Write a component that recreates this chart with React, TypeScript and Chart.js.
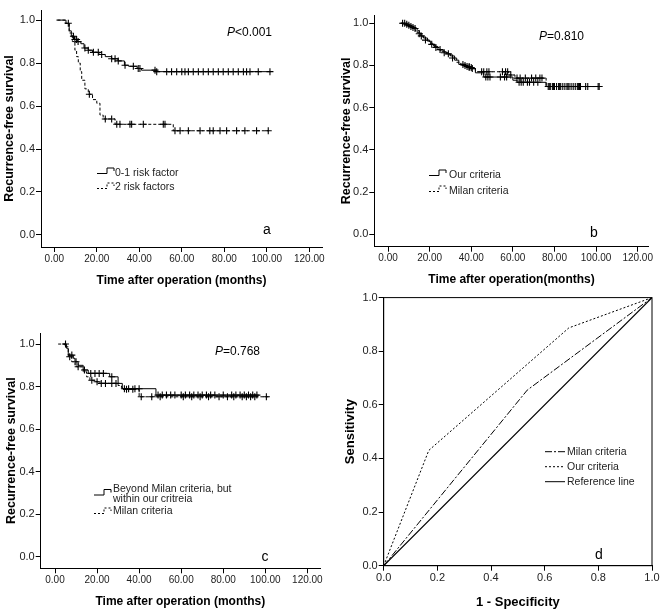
import React, { useEffect, useRef } from 'react';
import { Chart, registerables } from 'chart.js';
Chart.register(...registerables);

const FONT = "'Liberation Sans', Arial, Helvetica, sans-serif";

// ---------- shared ticks ----------
const kmXTicks = [0, 20, 40, 60, 80, 100, 120];
const kmYTicks = [0, 0.2, 0.4, 0.6, 0.8, 1.0];
const rocTicks = [0, 0.2, 0.4, 0.6, 0.8, 1.0];

// ---------- panel a ----------
const aLowTimes = [1, 5.5, 7, 8, 9.5, 11, 12.5, 14, 16, 18, 21, 24, 27, 30, 33, 35, 39, 41, 48, 102];
const aLowSurv = [1.0, 0.985, 0.95, 0.925, 0.91, 0.9, 0.89, 0.87, 0.86, 0.85, 0.84, 0.83, 0.82, 0.81, 0.79, 0.785, 0.775, 0.767, 0.76, 0.76];
const aLowCensor = [6.6, 9, 9.7, 10.5, 11.2, 14.4, 16, 18.4, 20.7, 22.3, 27, 28.6, 30.1, 33.3, 37.2, 39.5, 40.3, 47.4, 48.2, 52.9, 55.2, 57.6, 60, 61.5, 63.1, 65.4, 67.8, 70.1, 72.5, 74.8, 77.2, 79.5, 81.9, 84.2, 86.6, 89, 90.5, 92.1, 96, 101.5];
const aHighTimes = [1.5, 5, 7, 8.5, 9.7, 10.5, 11.3, 12.2, 12.9, 14.4, 16, 18, 20, 21.5, 23, 28.6, 56, 101];
const aHighSurv = [1.0, 0.985, 0.94, 0.9, 0.86, 0.83, 0.8, 0.76, 0.72, 0.68, 0.655, 0.63, 0.613, 0.558, 0.54, 0.515, 0.485, 0.485];
const aHighCensor = [16.5, 24, 27, 29.4, 30.9, 35.6, 36.4, 41.9, 51.3, 52.1, 56.8, 59.2, 63.1, 68.6, 73.2, 74.8, 78, 81.1, 85.8, 89.7, 95.2, 100.7];
const aLegend = ['0-1 risk factor', '2 risk factors'];
const aP = '<0.001';

// ---------- panel b ----------
const bOurTimes = [6, 8, 10, 12, 14, 15.5, 17, 19, 20.5, 22, 24, 26, 28, 30, 32, 34, 37, 40, 42, 46, 60, 62, 76, 102];
const bOurSurv = [1.0, 0.995, 0.985, 0.975, 0.955, 0.94, 0.93, 0.915, 0.9, 0.89, 0.875, 0.865, 0.855, 0.845, 0.825, 0.805, 0.795, 0.785, 0.765, 0.745, 0.73, 0.72, 0.70, 0.70];
const bOurCensor = [7, 9, 11, 13, 16, 21, 25, 29, 36, 38, 39, 40.5, 47, 48, 49, 54, 56, 57, 63, 64, 65, 67, 68, 70, 72, 77, 78, 79, 80, 81, 82, 83, 85, 86, 87, 88, 90, 91, 92, 96, 101];
const bMilanTimes = [6, 9, 11, 13, 15, 16.5, 18, 20, 21.5, 23, 25, 27, 29, 31, 33, 35, 38, 42, 58, 61, 76, 102];
const bMilanSurv = [1.0, 0.99, 0.98, 0.965, 0.95, 0.935, 0.92, 0.905, 0.895, 0.885, 0.87, 0.86, 0.85, 0.835, 0.815, 0.80, 0.79, 0.77, 0.755, 0.74, 0.70, 0.70];
const bMilanCensor = [8, 10, 12, 15, 18, 23, 27, 31, 37, 39, 40, 45, 46, 47.5, 48.5, 55, 56.5, 57.5, 59, 62, 63.5, 66, 69, 71, 73, 74, 77.5, 79.5, 82.5, 84, 86.5, 89, 91.5, 92.5, 95, 101.5];
const bLegend = ['Our criteria', 'Milan criteria'];
const bP = '=0.810';

// ---------- panel c ----------
const cBeyondTimes = [4, 5.5, 6.3, 8.7, 9.5, 11, 13.4, 15.8, 26, 30, 32, 48, 97];
const cBeyondSurv = [1.0, 0.98, 0.948, 0.933, 0.917, 0.9, 0.878, 0.862, 0.846, 0.815, 0.79, 0.76, 0.76];
const cBeyondCensor = [5, 8, 10, 14, 17, 19, 21, 23, 27, 33, 35, 38, 40, 49, 51, 53, 55, 57, 60, 62, 64, 66, 68, 70, 72, 74, 76, 80, 84, 86, 88, 90, 92, 94, 96];
const cMilanTimes = [1.5, 4.7, 6.3, 7.9, 9.5, 10.3, 13.4, 15, 16.6, 19, 21.3, 30, 31.6, 33.1, 40, 102];
const cMilanSurv = [1.0, 0.987, 0.94, 0.917, 0.9, 0.893, 0.87, 0.846, 0.83, 0.823, 0.815, 0.805, 0.795, 0.787, 0.752, 0.752];
const cMilanCensor = [7, 11, 17.5, 20, 22, 24, 27, 29, 34, 37, 41, 46, 50, 61, 65, 69, 73, 78, 82, 85, 89, 91, 93, 95, 100.5];
const cLegend = ['Beyond Milan criteria, but', 'within our critreia', 'Milan criteria'];
const cP = '=0.768';

// ---------- panel d ----------
const dMilanX = [0, 0.535, 1];
const dMilanY = [0, 0.655, 1];
const dOurX = [0, 0.168, 0.69, 1];
const dOurY = [0, 0.43, 0.887, 1];
const dRefX = [0, 1];
const dRefY = [0, 1];
const dLegend = ['Milan criteria', 'Our criteria', 'Reference line'];

function survAt(times: number[], surv: number[], t: number) {
  let s = surv[0];
  for (let i = 0; i < times.length; i++) if (times[i] <= t) s = surv[i];
  return s;
}

function kmDatasets(curves: { times: number[]; surv: number[]; censor: number[]; dash: number[] }[]) {
  const ds: any[] = [];
  curves.forEach((c) => {
    ds.push({
      type: 'line',
      data: c.times.map((t, i) => ({ x: t, y: c.surv[i] })),
      stepped: true,
      borderColor: '#000',
      borderWidth: 1,
      borderDash: c.dash,
      pointRadius: 0,
      fill: false,
    });
    ds.push({
      type: 'scatter',
      data: c.censor.map((t) => ({ x: t, y: survAt(c.times, c.surv, t) })),
      pointStyle: 'cross',
      pointRadius: 3.5,
      borderColor: '#000',
      borderWidth: 1.1,
      showLine: false,
    });
  });
  return ds;
}

function pText(ctx: CanvasRenderingContext2D, x: number, y: number, rest: string) {
  ctx.fillStyle = '#000';
  ctx.textBaseline = 'middle';
  ctx.textAlign = 'left';
  ctx.font = `italic 12px ${FONT}`;
  ctx.fillText('P', x, y);
  const w = ctx.measureText('P').width;
  ctx.font = `12px ${FONT}`;
  ctx.fillText(rest, x + w, y);
}

function letter(ctx: CanvasRenderingContext2D, x: number, y: number, s: string) {
  ctx.fillStyle = '#000';
  ctx.textBaseline = 'middle';
  ctx.textAlign = 'center';
  ctx.font = `14px ${FONT}`;
  ctx.fillText(s, x, y);
}

function stepGlyph(ctx: CanvasRenderingContext2D, x: number, y: number, dashed: boolean) {
  ctx.save();
  ctx.strokeStyle = '#000';
  ctx.lineWidth = 1;
  ctx.setLineDash(dashed ? [2, 2] : []);
  ctx.beginPath();
  ctx.moveTo(x, y + 2.5);
  ctx.lineTo(x + 10, y + 2.5);
  ctx.lineTo(x + 10, y - 3);
  ctx.lineTo(x + 17, y - 3);
  ctx.lineTo(x + 17, y);
  ctx.stroke();
  ctx.restore();
}

function legendText(ctx: CanvasRenderingContext2D, x: number, y: number, s: string) {
  ctx.fillStyle = '#222';
  ctx.textBaseline = 'middle';
  ctx.textAlign = 'left';
  ctx.font = `10.5px ${FONT}`;
  ctx.fillText(s, x, y);
}

type PanelSpec = {
  left: number; top: number; width: number; height: number;
  config: () => any;
};

function kmConfig(opts: {
  datasets: any[]; xmin: number; xmax: number; ymin: number; ymax: number;
  yWidth: number; xHeight: number; pad: { top: number; right: number; bottom: number; left: number };
  yTitlePad: number; xTitlePad: number; xTitle: string; overlay: (ctx: CanvasRenderingContext2D) => void;
}) {
  return {
    type: 'scatter',
    data: { datasets: opts.datasets },
    options: {
      responsive: false,
      animation: false,
      events: [],
      layout: { padding: opts.pad },
      plugins: { legend: { display: false }, tooltip: { enabled: false }, title: { display: false } },
      scales: {
        x: {
          type: 'linear', min: opts.xmin, max: opts.xmax,
          afterBuildTicks: (s: any) => { s.ticks = kmXTicks.map((v) => ({ value: v })); },
          afterFit: (s: any) => { s.height = opts.xHeight; },
          ticks: { callback: (v: any) => Number(v).toFixed(2), font: { family: FONT, size: 10 }, color: '#222', padding: 1, maxRotation: 0, minRotation: 0, autoSkip: false },
          grid: { display: true, drawOnChartArea: false, drawTicks: true, tickLength: 5, color: '#000', lineWidth: 1 },
          border: { display: true, color: '#000', width: 1 },
          title: { display: true, text: opts.xTitle, color: '#000', font: { family: FONT, size: 12, weight: 'bold' }, padding: { top: 0, bottom: opts.xTitlePad } },
        },
        y: {
          type: 'linear', min: opts.ymin, max: opts.ymax,
          afterBuildTicks: (s: any) => { s.ticks = kmYTicks.map((v) => ({ value: v })); },
          afterFit: (s: any) => { s.width = opts.yWidth; },
          ticks: { callback: (v: any) => Number(v).toFixed(1), font: { family: FONT, size: 11 }, color: '#222', padding: 1, autoSkip: false },
          grid: { display: true, drawOnChartArea: false, drawTicks: true, tickLength: 5, color: '#000', lineWidth: 1 },
          border: { display: true, color: '#000', width: 1 },
          title: { display: true, text: 'Recurrence-free survival', color: '#000', font: { family: FONT, size: 12.5, weight: 'bold' }, padding: { top: opts.yTitlePad, bottom: 0 } },
        },
      },
    },
    plugins: [{ id: 'overlay', afterDraw: (chart: any) => { const ctx = chart.ctx; ctx.save(); opts.overlay(ctx); ctx.restore(); } }],
  };
}

const panels: PanelSpec[] = [
  {
    left: 0, top: 0, width: 332, height: 300,
    config: () => kmConfig({
      datasets: kmDatasets([
        { times: aLowTimes, surv: aLowSurv, censor: aLowCensor, dash: [] },
        { times: aHighTimes, surv: aHighSurv, censor: aHighCensor, dash: [3, 2] },
      ]),
      xmin: -6.26, xmax: 126, ymin: -0.056, ymax: 1.047,
      yWidth: 41, xHeight: 53, pad: { top: 10, right: 10, bottom: 0, left: 0 },
      yTitlePad: 2.5, xTitlePad: 11.8, xTitle: 'Time after operation (months)',
      overlay: (ctx) => {
        pText(ctx, 227, 33, aP);
        letter(ctx, 267, 230, 'a');
        stepGlyph(ctx, 97, 171, false);
        legendText(ctx, 115, 173, aLegend[0]);
        stepGlyph(ctx, 97, 186, true);
        legendText(ctx, 115, 187.5, aLegend[1]);
      },
    }),
  },
  {
    left: 332, top: 0, width: 332, height: 300,
    config: () => kmConfig({
      datasets: kmDatasets([
        { times: bOurTimes, surv: bOurSurv, censor: bOurCensor, dash: [] },
        { times: bMilanTimes, surv: bMilanSurv, censor: bMilanCensor, dash: [3, 2] },
      ]),
      xmin: -6.6, xmax: 125.3, ymin: -0.059, ymax: 1.039,
      yWidth: 42.3, xHeight: 53.3, pad: { top: 15, right: 15.3, bottom: 0, left: 0 },
      yTitlePad: 7.5, xTitlePad: 12.8, xTitle: 'Time after operation(months)',
      overlay: (ctx) => {
        pText(ctx, 207, 36.7, bP);
        letter(ctx, 262, 233, 'b');
        stepGlyph(ctx, 97, 173, false);
        legendText(ctx, 117, 175, bLegend[0]);
        stepGlyph(ctx, 97, 189, true);
        legendText(ctx, 117, 190.7, bLegend[1]);
      },
    }),
  },
  {
    left: 0, top: 300, width: 332, height: 315,
    config: () => kmConfig({
      datasets: kmDatasets([
        { times: cBeyondTimes, surv: cBeyondSurv, censor: cBeyondCensor, dash: [] },
        { times: cMilanTimes, surv: cMilanSurv, censor: cMilanCensor, dash: [3, 2] },
      ]),
      xmin: -6.8, xmax: 126, ymin: -0.0545, ymax: 1.052,
      yWidth: 40.7, xHeight: 46.7, pad: { top: 33, right: 12, bottom: 0, left: 0 },
      yTitlePad: 4.2, xTitlePad: 6.1, xTitle: 'Time after operation (months)',
      overlay: (ctx) => {
        pText(ctx, 215, 52, cP);
        letter(ctx, 265, 257, 'c');
        stepGlyph(ctx, 94, 192.5, false);
        legendText(ctx, 113, 189.3, cLegend[0]);
        legendText(ctx, 113, 199, cLegend[1]);
        stepGlyph(ctx, 94, 211, true);
        legendText(ctx, 113, 211, cLegend[2]);
      },
    }),
  },
  {
    left: 332, top: 290, width: 332, height: 325,
    config: () => ({
      type: 'scatter',
      data: {
        datasets: [
          { type: 'line', data: dMilanX.map((x, i) => ({ x, y: dMilanY[i] })), borderColor: '#000', borderWidth: 1, borderDash: [7, 2, 2, 2], pointRadius: 0, tension: 0, fill: false },
          { type: 'line', data: dOurX.map((x, i) => ({ x, y: dOurY[i] })), borderColor: '#000', borderWidth: 1, borderDash: [2, 2], pointRadius: 0, tension: 0, fill: false },
          { type: 'line', data: dRefX.map((x, i) => ({ x, y: dRefY[i] })), borderColor: '#000', borderWidth: 1.2, pointRadius: 0, tension: 0, fill: false },
        ],
      },
      options: {
        responsive: false,
        animation: false,
        events: [],
        layout: { padding: { top: 7, right: 12, bottom: 0, left: 0 } },
        plugins: { legend: { display: false }, tooltip: { enabled: false } },
        scales: {
          x: {
            type: 'linear', min: 0, max: 1,
            afterBuildTicks: (s: any) => { s.ticks = rocTicks.map((v) => ({ value: v })); },
            afterFit: (s: any) => { s.height = 49.3; },
            ticks: { callback: (v: any) => Number(v).toFixed(1), font: { family: FONT, size: 11 }, color: '#222', padding: 1, maxRotation: 0, autoSkip: false },
            grid: { display: true, drawOnChartArea: false, drawTicks: true, tickLength: 5, color: '#000' },
            border: { display: true, color: '#000', width: 1 },
            title: { display: true, text: '1 - Specificity', color: '#000', font: { family: FONT, size: 13, weight: 'bold' }, padding: { top: 0, bottom: 4.5 } },
          },
          y: {
            type: 'linear', min: 0, max: 1,
            afterBuildTicks: (s: any) => { s.ticks = rocTicks.map((v) => ({ value: v })); },
            afterFit: (s: any) => { s.width = 51.7; },
            ticks: { callback: (v: any) => Number(v).toFixed(1), font: { family: FONT, size: 11 }, color: '#222', padding: 1, autoSkip: false },
            grid: { display: true, drawOnChartArea: false, drawTicks: true, tickLength: 5, color: '#000' },
            border: { display: true, color: '#000', width: 1 },
            title: { display: true, text: 'Sensitivity', color: '#000', font: { family: FONT, size: 13, weight: 'bold' }, padding: { top: 10.2, bottom: 0 } },
          },
        },
      },
      plugins: [{
        id: 'overlayD',
        afterDraw: (chart: any) => {
          const ctx = chart.ctx as CanvasRenderingContext2D;
          const a = chart.chartArea;
          ctx.save();
          ctx.strokeStyle = '#000';
          ctx.lineWidth = 1;
          ctx.strokeRect(a.left, a.top, a.right - a.left, a.bottom - a.top);
          letter(ctx, 267, 265, 'd');
          const dashes = [[7, 2, 2, 2], [2, 2], []];
          const rows = [161.7, 176.7, 191.7];
          rows.forEach((y, i) => {
            ctx.beginPath();
            ctx.setLineDash(dashes[i]);
            ctx.moveTo(213, y);
            ctx.lineTo(233, y);
            ctx.stroke();
            ctx.setLineDash([]);
            legendText(ctx, 235, y, dLegend[i]);
          });
          ctx.restore();
        },
      }],
    }),
  },
];

function Panel({ spec }: { spec: PanelSpec }) {
  const ref = useRef<HTMLCanvasElement | null>(null);
  useEffect(() => {
    if (!ref.current) return;
    const chart = new Chart(ref.current, spec.config());
    return () => chart.destroy();
  }, [spec]);
  return (
    <canvas
      ref={ref}
      width={spec.width}
      height={spec.height}
      style={{ position: 'absolute', left: spec.left, top: spec.top, width: spec.width, height: spec.height, display: 'block' }}
    />
  );
}

export default function App() {
  return (
    <div style={{ position: 'fixed', left: 0, top: 0, width: 664, height: 615, background: '#fff', overflow: 'hidden' }}>
      {panels.map((p, i) => <Panel key={i} spec={p} />)}
    </div>
  );
}
